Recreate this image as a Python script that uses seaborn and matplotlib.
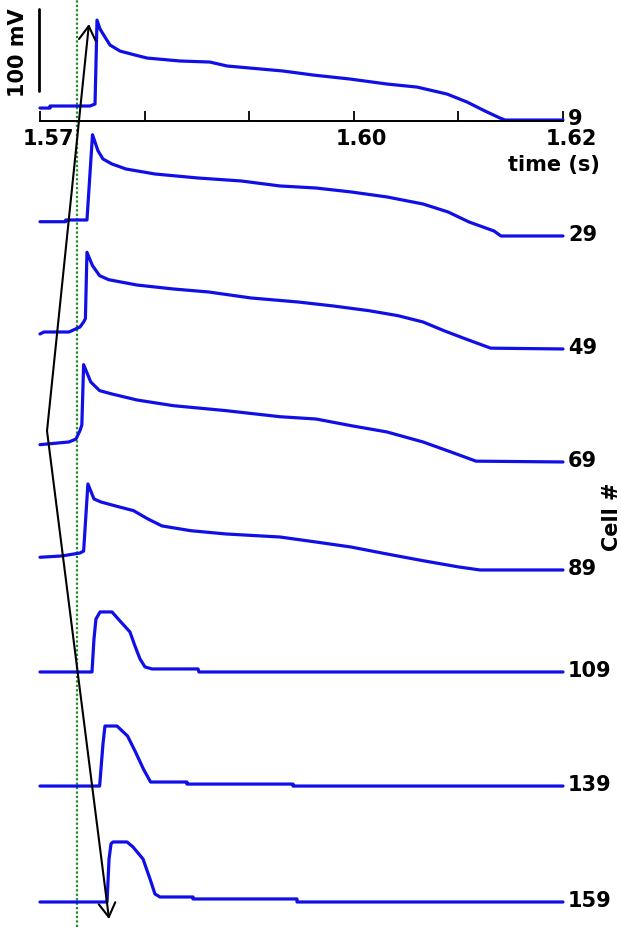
import numpy as np
import matplotlib
matplotlib.use("Agg")
import matplotlib.pyplot as plt
import matplotlib.transforms as mtrans
import seaborn as sns

# ---------------------------------------------------------------------------
# Data: membrane potential traces (time in s, voltage in mV)
# ---------------------------------------------------------------------------
cells = [9, 29, 49, 69, 89, 109, 139, 159]

t9 = [1.57000, 1.57096, 1.57096, 1.57478, 1.57526, 1.57545, 1.57574, 1.57621,
      1.57669, 1.57765, 1.57908, 1.58023, 1.58338, 1.58625, 1.58788, 1.59008,
      1.59323, 1.59610, 1.59964, 1.60317, 1.60604, 1.60891, 1.61082, 1.61254,
      1.61398, 1.61446, 1.62000]
v9 = [-70.4, -70.4, -67.9, -67.9, -65.5, 36.9, 26.0, 16.2, 6.5, -0.9, -5.7,
      -9.4, -13.0, -14.3, -19.1, -21.6, -25.2, -30.1, -35.0, -41.1, -44.8,
      -53.3, -63.0, -74.0, -82.6, -85.0, -85.0]

t29 = [1.57000, 1.57246, 1.57246, 1.57449, 1.57502, 1.57554, 1.57602, 1.57688,
       1.57822, 1.58099, 1.58511, 1.58922, 1.59294, 1.59639, 1.59973, 1.60317,
       1.60662, 1.60901, 1.61101, 1.61340, 1.61407, 1.62000]
v29 = [-67.6, -67.6, -65.5, -65.5, 38.5, 19.0, 8.9, 2.8, -3.3, -9.4, -14.3,
       -17.9, -24.0, -26.5, -31.3, -37.4, -46.0, -55.7, -67.9, -78.9, -85.0,
       -85.0]

t49 = [1.57000, 1.57038, 1.57277, 1.57382, 1.57417, 1.57434, 1.57449, 1.57502,
       1.57570, 1.57656, 1.57927, 1.58272, 1.58612, 1.59017, 1.59467, 1.59807,
       1.60145, 1.60423, 1.60662, 1.60862, 1.61070, 1.61309, 1.62000]
v49 = [-66.7, -64.3, -64.3, -58.2, -52.1, -48.0, 32.9, 16.6, 4.4, -0.5, -7.0,
       -11.8, -15.5, -22.8, -27.7, -32.6, -38.3, -44.4, -52.1, -62.7, -72.8,
       -84.0, -85.0]

t69 = [1.57000, 1.57277, 1.57344, 1.57382, 1.57400, 1.57417, 1.57485, 1.57570,
       1.57688, 1.57927, 1.58272, 1.58778, 1.59294, 1.59639, 1.59973, 1.60317,
       1.60662, 1.60929, 1.61168, 1.62000]
v69 = [-63.9, -60.6, -57.0, -46.8, -40.0, 33.7, 12.6, 2.0, -2.1, -9.4, -16.3,
       -22.4, -29.8, -32.6, -40.7, -48.4, -60.6, -72.8, -84.0, -85.0]

t89 = [1.57000, 1.57210, 1.57382, 1.57417, 1.57458, 1.57516, 1.57583, 1.57724,
       1.57895, 1.58032, 1.58166, 1.58441, 1.58778, 1.59294, 1.59639, 1.59973,
       1.60317, 1.60662, 1.61002, 1.61207, 1.62000]
v89 = [-69.5, -67.9, -64.3, -62.0, 19.9, 1.6, -2.1, -7.0, -12.7, -22.8, -31.3,
       -37.1, -41.1, -44.8, -50.9, -57.0, -65.5, -73.7, -81.3, -85.0, -85.0]

t109 = [1.57000, 1.57497, 1.57516, 1.57535, 1.57574, 1.57688, 1.57765, 1.57860,
        1.57908, 1.57956, 1.58004, 1.58071, 1.58511, 1.58520, 1.62000]
v109 = [-85.0, -85.0, -44.8, -20.4, -11.8, -11.8, -22.8, -36.2, -53.3, -69.1,
        -78.9, -81.3, -81.3, -85.0, -85.0]

t139 = [1.57000, 1.57570, 1.57602, 1.57621, 1.57736, 1.57837, 1.57913, 1.57989,
        1.58057, 1.58405, 1.58405, 1.59419, 1.59419, 1.62000]
v139 = [-85.0, -85.0, -33.8, -11.8, -11.8, -24.0, -43.5, -64.3, -80.1, -80.1,
        -82.6, -82.6, -85.0, -85.0]

t159 = [1.57000, 1.57641, 1.57660, 1.57679, 1.57698, 1.57832, 1.57889, 1.57985,
        1.58052, 1.58099, 1.58147, 1.58463, 1.58463, 1.59457, 1.59457, 1.62000]
v159 = [-85.0, -85.0, -32.6, -14.0, -11.8, -11.8, -17.9, -32.6, -57.0, -75.2,
        -78.9, -78.9, -81.3, -81.3, -85.0, -85.0]

times = [t9, t29, t49, t69, t89, t109, t139, t159]
volts = [v9, v29, v49, v69, v89, v109, v139, v159]

# vertical offset of each trace (mV) in the stacked display
offsets = [-62.6, -204.0, -341.8, -479.6, -611.3, -735.7, -874.8, -1016.2]
rest_mv = -85.0

# x axis ticks
tick_vals = [1.57, 1.58, 1.59, 1.60, 1.61, 1.62]
tick_labels = ["1.57", "", "", "1.60", "", "1.62"]

# stimulus time (green dotted line) and propagation arrows
stim_time = 1.57354
arrow_vertex = (1.57067, -526.8)
arrow_top = (1.57468, -30.5)
arrow_bottom = (1.57660, -1122.0)

# 100 mV scale bar
scalebar_t = 1.56990
scalebar_top = -12.2
scalebar_len = 100.0

# ---------------------------------------------------------------------------
# Style
# ---------------------------------------------------------------------------
TRACE_BLUE = "#0f0fe6"
STIM_GREEN = "#1e8c1e"

sns.set_style("white")
plt.rcParams["font.family"] = ["DejaVu Sans"]
plt.rcParams["font.weight"] = "bold"
plt.rcParams["font.size"] = 15
plt.rcParams["text.color"] = "black"
plt.rcParams["axes.labelcolor"] = "black"

fig = plt.figure(figsize=(6.21, 9.28), dpi=100)
ax = fig.add_axes([40 / 621, 0, 523 / 621, 1])
ax.set_xlim(1.57, 1.62)
ax.set_ylim(-1131.7, 0)

# ---------------------------------------------------------------------------
# Traces
# ---------------------------------------------------------------------------
for cell, t, v, off in zip(cells, times, volts, offsets):
    sns.lineplot(x=t, y=np.array(v) + off, ax=ax, sort=False, estimator=None,
                 color=TRACE_BLUE, lw=2.3, clip_on=False)
    ax.text(1.62048, rest_mv + off + 2.5, str(cell), ha="left", va="center",
            fontsize=15, fontweight="bold", color="black", clip_on=False)

# stimulus line
ax.axvline(stim_time, color=STIM_GREEN, ls=(0, (1, 1)), lw=1.6, zorder=1)

# propagation arrows
arrow_kw = dict(arrowstyle="->,head_length=0.5,head_width=0.3", color="black",
                lw=1.5, mutation_scale=20, shrinkA=0, shrinkB=0)
ax.annotate("", xy=arrow_top, xytext=arrow_vertex, arrowprops=arrow_kw,
            annotation_clip=False)
ax.annotate("", xy=arrow_bottom, xytext=arrow_vertex, arrowprops=arrow_kw,
            annotation_clip=False)

# scale bar
ax.plot([scalebar_t, scalebar_t], [scalebar_top, scalebar_top - scalebar_len],
        color="black", lw=2, clip_on=False)
fig.text(18 / 621, 1 - 53 / 928, "100 mV", rotation=90, ha="center",
         va="center", fontsize=15, fontweight="bold", color="black")

# ---------------------------------------------------------------------------
# Time axis under the first trace
# ---------------------------------------------------------------------------
for s in ["top", "left", "right"]:
    ax.spines[s].set_visible(False)
axis_y = -122 / 0.82
ax.spines["bottom"].set_position(("data", axis_y))
ax.spines["bottom"].set_color("black")
ax.spines["bottom"].set_linewidth(1.4)
ax.set_yticks([])
ax.set_xticks(tick_vals)
ax.set_xticklabels(tick_labels)
ax.tick_params(axis="x", bottom=True, direction="in", length=7.5, width=1.3,
               pad=5, labelsize=15, colors="black")
shift = mtrans.ScaledTranslation(8 / 100, 0, fig.dpi_scale_trans)
for lab in ax.get_xticklabels():
    lab.set_fontweight("bold")
    lab.set_transform(lab.get_transform() + shift)

ax.set_xlabel("time (s)", fontsize=15, fontweight="bold", ha="right",
              va="center", color="black")
ax.xaxis.set_label_coords(1.071, 1 - 165 / 928)

fig.text(612 / 621, 1 - 517 / 928, "Cell #", rotation=90, ha="center",
         va="center", fontsize=15, fontweight="bold", color="black")

fig.savefig("out.png", dpi=100)
